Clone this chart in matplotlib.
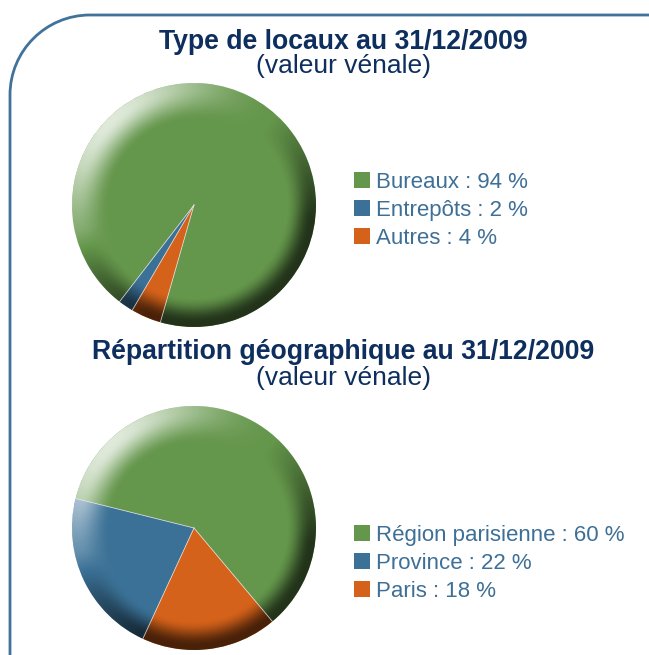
import numpy as np
import matplotlib
matplotlib.use("Agg")
import matplotlib.pyplot as plt
from matplotlib.patches import Circle, PathPatch
from matplotlib.path import Path

plt.rcParams['font.family'] = ['Liberation Sans', 'DejaVu Sans']

# data
titles = ["Type de locaux au 31/12/2009", "Répartition géographique au 31/12/2009"]
subtitle = "(valeur vénale)"
labels_1 = ["Bureaux", "Entrepôts", "Autres"]
values_1 = [94, 2, 4]
labels_2 = ["Région parisienne", "Province", "Paris"]
values_2 = [60, 22, 18]

colors = ["#64964b", "#3b7196", "#d5621a"]
navy = "#0e2f5e"
text_blue = "#3e6f96"
border_blue = "#41729a"

W, H = 649, 655
fig = plt.figure(figsize=(W / 100, H / 100), dpi=100)

# background axes in pixel coordinates for frame and texts
bg = fig.add_axes([0, 0, 1, 1])
bg.set_xlim(0, W)
bg.set_ylim(H, 0)
bg.axis("off")

# rounded frame (top and left sides)
r = 80
k = 0.5523 * r
verts = [(10, H + 5), (10, 15 + r),
         (10, 15 + r - k), (10 + r - k, 15), (10 + r, 15),
         (W + 5, 15)]
codes = [Path.MOVETO, Path.LINETO, Path.CURVE4, Path.CURVE4, Path.CURVE4, Path.LINETO]
bg.add_patch(PathPatch(Path(verts, codes), facecolor="none", edgecolor=border_blue, lw=2.0))


def smooth(a, b, v):
    t = np.clip((v - a) / (b - a), 0, 1)
    return t * t * (3 - 2 * t)


def shading(ax):
    # bevel-like light overlay: highlight top-left, shadow bottom-right
    n = 500
    g = np.linspace(-1, 1, n)
    X, Y = np.meshgrid(g, g[::-1])
    rr = np.sqrt(X ** 2 + Y ** 2) + 1e-9
    th = np.arctan2(Y, X)
    d_hi = np.cos(th - np.deg2rad(135))
    d_lo = np.cos(th - np.deg2rad(300))
    hi = smooth(0.68, 0.96, rr) * 0.8 * np.clip(d_hi, 0, 1) ** 2.2
    lo = smooth(0.76, 0.97, rr) * 0.66 * np.clip((d_lo + 0.3) / 0.9, 0, 1)
    s = hi - lo
    img = np.zeros((n, n, 4))
    img[..., :3] = np.where(s[..., None] > 0, 1.0, 0.0)
    img[..., 3] = np.abs(s)
    im = ax.imshow(img, extent=[-1, 1, -1, 1], zorder=3, interpolation="bilinear")
    im.set_clip_path(Circle((0, 0), 1, transform=ax.transData))


def draw_pie(cy, values, labels, startangle, title, title_y, sub_y, legend_y):
    R = 122
    cx = 194
    ax = fig.add_axes([(cx - R) / W, (H - cy - R) / H, 2 * R / W, 2 * R / H])
    wedges, _ = ax.pie(values, colors=colors, startangle=startangle,
                       counterclock=True, radius=1,
                       wedgeprops=dict(linewidth=0))
    ax.set_xlim(-1, 1)
    ax.set_ylim(-1, 1)
    ax.axis("off")
    shading(ax)
    for w in wedges:
        t = np.deg2rad(w.theta1)
        ax.plot([0, np.cos(t)], [0, np.sin(t)], color="#e8e8e8", lw=0.6, alpha=0.8, zorder=4)

    bg.text(343, title_y, title, ha="center", va="baseline",
            fontsize=19.2, fontweight="bold", color=navy)
    bg.text(343, sub_y, subtitle, ha="center", va="baseline", fontsize=19, color=navy)

    for i, (lab, v) in enumerate(zip(labels, values)):
        y = legend_y + i * 28
        bg.add_patch(plt.Rectangle((354, y - 8), 16, 16, facecolor=colors[i], edgecolor="none"))
        bg.text(376, y + 8, f"{lab} : {v} %", ha="left", va="baseline", fontsize=16, color=text_blue)


draw_pie(205, values_1, labels_1, 254, titles[0], 49, 73, 180)
draw_pie(528, values_2, labels_2, 310, titles[1], 359, 385, 533)

fig.savefig("out.png", dpi=100)
